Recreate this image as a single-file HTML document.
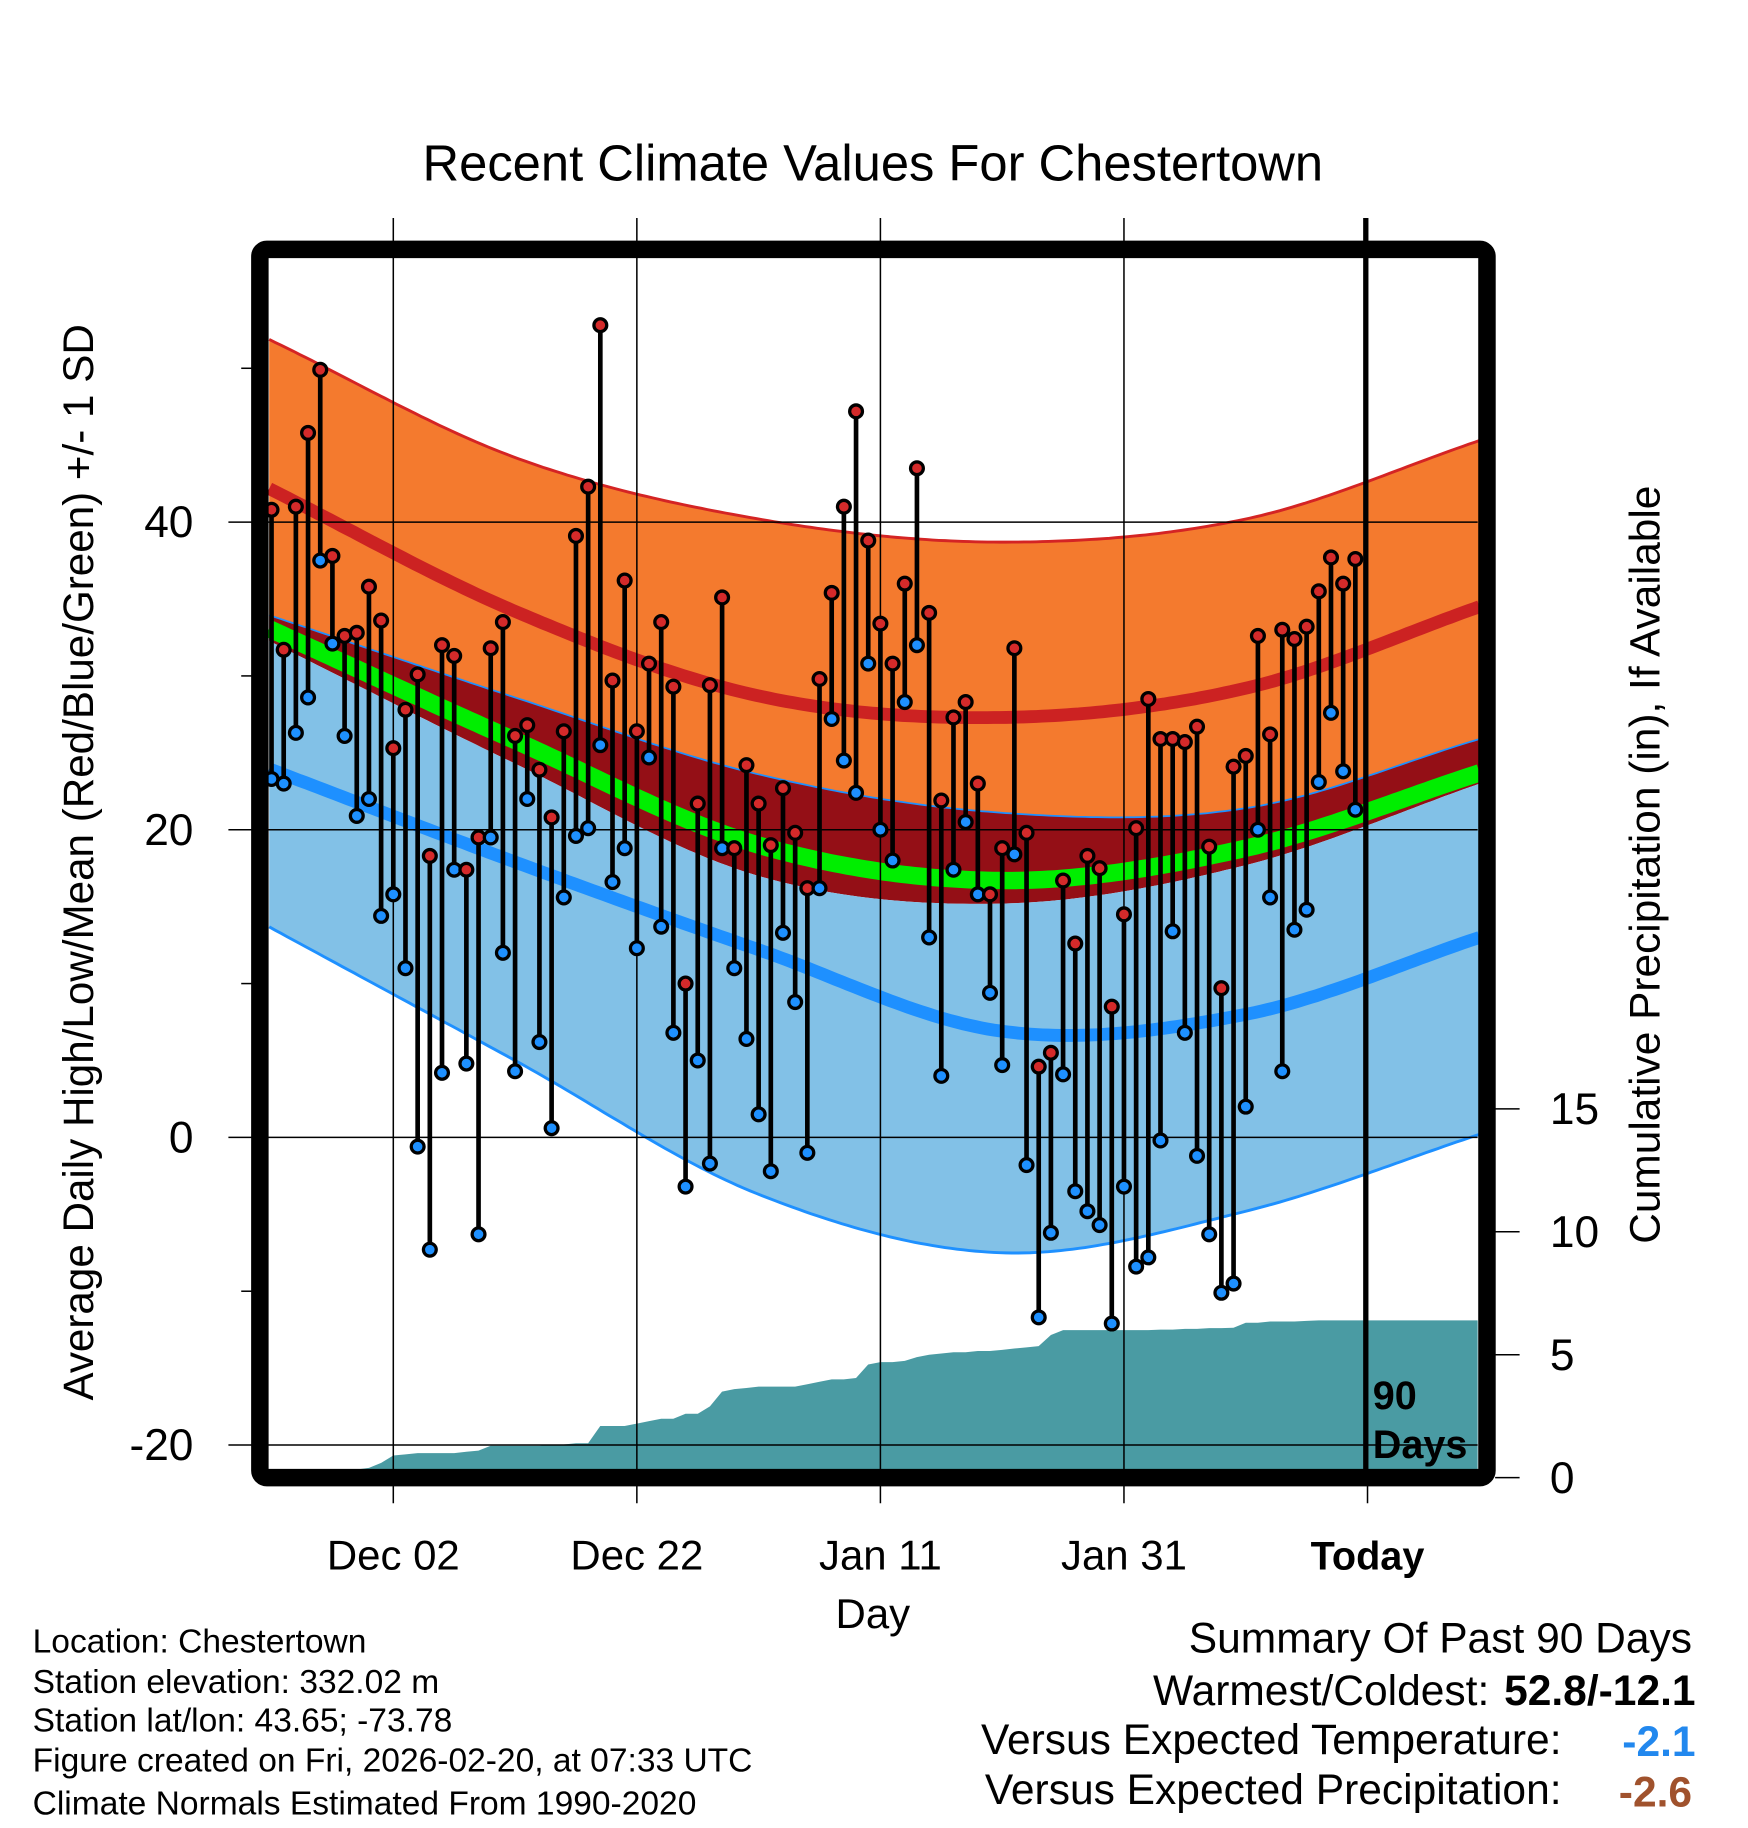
<!DOCTYPE html>
<html><head><meta charset="utf-8"><style>
html,body{margin:0;padding:0;background:#fff;}
svg{display:block;font-family:"Liberation Sans",Arial,sans-serif;}
</style></head><body>
<svg id="chart" width="1748" height="1828" viewBox="0 0 1500 1568.6" xmlns="http://www.w3.org/2000/svg">
<text x="749" y="155" font-size="43.5" text-anchor="middle">Recent Climate Values For Chestertown</text>
<g id="fills"></g>
<g id="precip"></g>
<g id="grid"></g>
<g id="marks"></g>
<rect x="223" y="214" width="1053" height="1054" rx="6" fill="none" stroke="#000" stroke-width="15"/>
<line x1="1172" y1="187" x2="1172" y2="1262" stroke="#000" stroke-width="4.5"/>
<text x="1178" y="1209" font-size="34" font-weight="bold">90</text>
<text x="1178" y="1251" font-size="34" font-weight="bold">Days</text>
<g id="axes"></g>
<text transform="translate(80,740) rotate(-90)" font-size="36.2" text-anchor="middle">Average Daily High/Low/Mean (Red/Blue/Green) +/- 1 SD</text>
<text transform="translate(1424,742) rotate(-90)" font-size="36.4" text-anchor="middle">Cumulative Precipitation (in), If Available</text>
<text x="749" y="1397" font-size="36" text-anchor="middle">Day</text>
<g font-size="28.8">
<text x="28" y="1418">Location: Chestertown</text>
<text x="28" y="1453">Station elevation: 332.02 m</text>
<text x="28" y="1486">Station lat/lon: 43.65; -73.78</text>
<text x="28" y="1520">Figure created on Fri, 2026-02-20, at 07:33 UTC</text>
<text x="28" y="1557">Climate Normals Estimated From 1990-2020</text>
</g>
<g font-size="36.5">
<text x="1452" y="1418" text-anchor="end">Summary Of Past 90 Days</text>
<text x="1278" y="1463" text-anchor="end">Warmest/Coldest:</text>
<text x="1455" y="1463" text-anchor="end" font-weight="bold">52.8/-12.1</text>
<text x="1340" y="1505" text-anchor="end">Versus Expected Temperature:</text>
<text x="1455" y="1507" text-anchor="end" font-weight="bold" fill="#2288ee">-2.1</text>
<text x="1340" y="1548" text-anchor="end">Versus Expected Precipitation:</text>
<text x="1452" y="1550" text-anchor="end" font-weight="bold" fill="#a0522d">-2.6</text>
</g>
</svg>
<script>
const normDays=[0,20,40,60,80,99.2];
const highPlus=[51.8,44.2,40.2,38.7,40.2,45.3];
const highMean=[42.1,34.2,28.7,27.3,29.2,34.5];
const highMinus=[33.9,28.6,23.6,21.1,21.4,25.9];
const meanTemp=[33.0,25.8,19.0,16.7,18.8,23.7];
const lowPlus=[32.2,24.3,17.0,15.2,17.7,23.0];
const lowMean=[23.9,17.9,12.2,6.9,8.0,13.0];
const lowMinus=[13.6,5.0,-3.7,-7.5,-4.8,0.2];
const highs=[40.8,31.7,41.0,45.8,49.9,37.8,32.6,32.8,35.8,33.6,25.3,27.8,30.1,18.3,32.0,31.3,17.4,19.5,31.8,33.5,26.1,26.8,23.9,20.8,26.4,39.1,42.3,52.8,29.7,36.2,26.4,30.8,33.5,29.3,10.0,21.7,29.4,35.1,18.8,24.2,21.7,19.0,22.7,19.8,16.2,29.8,35.4,41.0,47.2,38.8,33.4,30.8,36.0,43.5,34.1,21.9,27.3,28.3,23.0,15.8,18.8,31.8,19.8,4.6,5.5,16.7,12.6,18.3,17.5,8.5,14.5,20.1,28.5,25.9,25.9,25.7,26.7,18.9,9.7,24.1,24.8,32.6,26.2,33.0,32.4,33.2,35.5,37.7,36.0,37.6];
const lows=[23.3,23.0,26.3,28.6,37.5,32.1,26.1,20.9,22.0,14.4,15.8,11.0,-0.6,-7.3,4.2,17.4,4.8,-6.3,19.5,12.0,4.3,22.0,6.2,0.6,15.6,19.6,20.1,25.5,16.6,18.8,12.3,24.7,13.7,6.8,-3.2,5.0,-1.7,18.8,11.0,6.4,1.5,-2.2,13.3,8.8,-1.0,16.2,27.2,24.5,22.4,30.8,20.0,18.0,28.3,32.0,13.0,4.0,17.4,20.5,15.8,9.4,4.7,18.4,-1.8,-11.7,-6.2,4.1,-3.5,-4.8,-5.7,-12.1,-3.2,-8.4,-7.8,-0.2,13.4,6.8,-1.2,-6.3,-10.1,-9.5,2.0,20.0,15.6,4.3,13.5,14.8,23.1,27.6,23.8,21.3];
const precipCum=[0,0,0,0,0,0,0,0.1,0.4,0.6,0.9,0.95,1.0,1.0,1.0,1.0,1.05,1.1,1.3,1.3,1.3,1.3,1.3,1.35,1.35,1.4,1.4,2.1,2.1,2.1,2.2,2.3,2.4,2.4,2.6,2.6,2.9,3.5,3.6,3.65,3.7,3.7,3.7,3.7,3.8,3.9,4.0,4.0,4.05,4.6,4.7,4.7,4.75,4.9,5.0,5.05,5.1,5.1,5.15,5.15,5.2,5.25,5.3,5.35,5.8,6.0,6.0,6.0,6.0,6.0,6.0,6.0,6.0,6.02,6.02,6.05,6.05,6.08,6.08,6.1,6.3,6.3,6.35,6.35,6.35,6.38,6.4,6.4,6.4,6.4];
const xTickDays=[10,30,50,70,90];
const xTickLabels=["Dec 02","Dec 22","Jan 11","Jan 31","Today"];
const yTicks=[40,20,0,-20];
const yMinor=[50,30,10,-10];
const pTicks=[0,5,10,15];

const NS="http://www.w3.org/2000/svg";
const X0=233,DX=10.45,XL=231,XR=1268,YT=222,YB=1261;
function xs(d){return X0+DX*d;}
function ys(v){return 976-13.2*v;}
function yp(p){return 1268-21.1*p;}
function mk(tag,attrs,parent){const e=document.createElementNS(NS,tag);for(const k in attrs)e.setAttribute(k,attrs[k]);parent.appendChild(e);return e;}
function interp(arr,d){
  let i=0;while(i<normDays.length-2&&d>normDays[i+1])i++;
  const h=normDays[i+1]-normDays[i];
  const t=(d-normDays[i])/h;
  function slope(k){
    if(k===0)return (arr[1]-arr[0])/(normDays[1]-normDays[0]);
    if(k===arr.length-1)return (arr[k]-arr[k-1])/(normDays[k]-normDays[k-1]);
    return (arr[k+1]-arr[k-1])/(normDays[k+1]-normDays[k-1]);
  }
  const m0=slope(i)*h,m1=slope(i+1)*h,p0=arr[i],p1=arr[i+1];
  const t2=t*t,t3=t2*t;
  return (2*t3-3*t2+1)*p0+(t3-2*t2+t)*m0+(-2*t3+3*t2)*p1+(t3-t2)*m1;
}
const samp=[];for(let d=-0.2;d<99.2;d+=0.5)samp.push(d);samp.push(99.2);
function linePts(arr){return samp.map(d=>[Math.max(XL,xs(d)),ys(interp(arr,d))]);}
function pathStr(pts){return pts.map((p,i)=>(i?'L':'M')+p[0].toFixed(1)+','+p[1].toFixed(1)).join('');}
function band(a,b){const p1=linePts(a),p2=linePts(b).reverse();return pathStr(p1)+pathStr(p2).replace('M','L')+'Z';}

const fills=document.getElementById('fills');
let e;
e=mk('path',{d:band(highMinus,lowPlus),fill:'#940f16'},fills);


e=mk('path',{d:band(highPlus,highMinus),fill:'#f47a2e'},fills);


e=mk('path',{d:band(lowPlus,lowMinus),fill:'#82c1e7'},fills);


e=mk('path',{d:pathStr(linePts(meanTemp)),fill:'none',stroke:'#00ee00',"stroke-width":15},fills);


e=mk('path',{d:pathStr(linePts(highMean)),fill:'none',stroke:'#cc2222',"stroke-width":11},fills);


e=mk('path',{d:pathStr(linePts(lowMean)),fill:'none',stroke:'#1e90ff',"stroke-width":11},fills);


e=mk('path',{d:pathStr(linePts(highPlus)),fill:'none',stroke:'#d42424',"stroke-width":2.5},fills);


e=mk('path',{d:pathStr(linePts(highMinus)),fill:'none',stroke:'#1e90ff',"stroke-width":1.5},fills);


e=mk('path',{d:pathStr(linePts(lowMinus)),fill:'none',stroke:'#1e90ff',"stroke-width":2.5},fills);



const pg=document.getElementById('precip');
let pts=[[XL,YB]];
precipCum.forEach((p,i)=>{pts.push([Math.max(XL,xs(i)),Math.min(YB,yp(p))]);});
pts.push([XR,Math.min(YB,yp(precipCum[precipCum.length-1]))]);
pts.push([XR,YB]);
e=mk('path',{d:pathStr(pts)+'Z',fill:'#4a9ba3'},pg);



const gg=document.getElementById('grid');
xTickDays.forEach(d=>{
  e=mk('line',{x1:xs(d),y1:187,x2:xs(d),y2:1290,stroke:'#000',"stroke-width":1.3},gg);
  
  
});
yTicks.forEach(v=>{
  e=mk('line',{x1:196,y1:ys(v),x2:XR,y2:ys(v),stroke:'#000',"stroke-width":1.3},gg);
  
  
});

const mg=document.getElementById('marks');
highs.forEach((h,i)=>{
  const x=xs(i),l=lows[i];
  e=mk('line',{x1:x,y1:ys(h),x2:x,y2:ys(l),stroke:'#000',"stroke-width":4},mg);
  
  
  e=mk('circle',{cx:x,cy:ys(l),r:5.5,fill:'#1e90ff',stroke:'#000',"stroke-width":2.8},mg);
  
  
  e=mk('circle',{cx:x,cy:ys(h),r:5.5,fill:'#d42a2a',stroke:'#000',"stroke-width":2.8},mg);
  
  
});

const ag=document.getElementById('axes');
yTicks.forEach(v=>{
  e=mk('text',{x:166,y:ys(v)+13,"font-size":38,"text-anchor":"end"},ag);
  e.textContent=String(v);
  
  
});
yMinor.forEach(v=>{
  e=mk('line',{x1:207,y1:ys(v),x2:216,y2:ys(v),stroke:'#000',"stroke-width":1.3},ag);
  
  
});
pTicks.forEach(p=>{
  e=mk('line',{x1:1283,y1:yp(p),x2:1304,y2:yp(p),stroke:'#000',"stroke-width":1.3},ag);
  
  
  e=mk('text',{x:1330,y:yp(p)+13,"font-size":38},ag);
  e.textContent=String(p);
  
  
});
xTickDays.forEach((d,i)=>{
  e=mk('text',{x:xs(d),y:1347,"font-size":36,"text-anchor":"middle"},ag);
  if(xTickLabels[i]==='Today'){e.setAttribute('font-weight','bold');e.setAttribute('font-size','34');}
  e.textContent=xTickLabels[i];
  
  
});
</script>
</body></html>
